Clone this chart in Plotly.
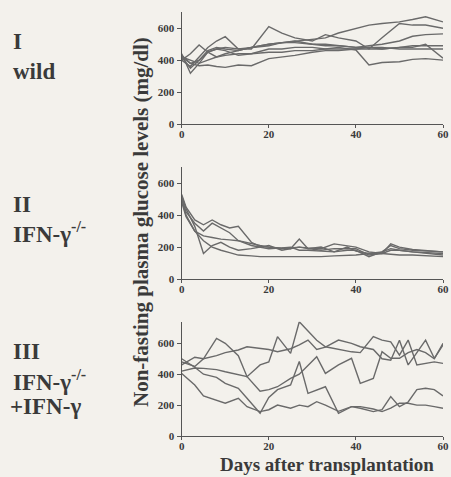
import plotly.graph_objects as go

# ---------------- data ----------------
# Panel I: wild
days1 = [0, 2, 4, 6, 8, 10, 13, 16, 20, 23, 26, 30, 33, 36, 40, 43, 46, 50, 53, 56, 60]
wild = [
    [430, 380, 400, 460, 480, 470, 460, 480, 500, 510, 520, 530, 540, 570, 600, 620, 630, 640, 655, 672, 640],
    [420, 350, 400, 450, 470, 480, 470, 470, 610, 570, 540, 520, 560, 540, 520, 470, 540, 630, 620, 620, 600],
    [440, 318, 380, 450, 470, 460, 430, 440, 470, 470, 480, 480, 470, 480, 464, 370, 385, 390, 405, 410, 400],
    [420, 380, 365, 370, 360, 355, 370, 365, 410, 420, 430, 450, 460, 460, 470, 470, 470, 480, 490, 490, 490],
    [400, 360, 420, 480, 520, 547, 470, 480, 490, 510, 520, 500, 490, 490, 480, 490, 500, 520, 550, 560, 565],
    [400, 440, 495, 450, 420, 440, 460, 480, 500, 510, 510, 500, 500, 490, 480, 480, 470, 480, 480, 500, 412],
    [420, 400, 380, 400, 420, 430, 440, 440, 450, 450, 460, 460, 470, 470, 470, 480, 480, 470, 470, 470, 470],
]

# Panel II: IFN-gamma -/-
days2 = [0, 1, 3, 5, 7, 9, 11, 13, 16, 18, 20, 23, 25, 27, 29, 32, 35, 38, 40, 43, 46, 48, 50, 53, 56, 60]
ko = [
    [520, 440, 330, 160, 210, 230, 200, 180, 190, 200, 210, 180, 190, 200, 190, 180, 190, 190, 190, 150, 160, 180, 180, 170, 165, 160],
    [500, 400, 300, 240, 200, 180, 165, 150, 145, 140, 140, 140, 140, 140, 140, 140, 145, 150, 150, 160, 160, 155, 150, 150, 145, 140],
    [530, 450, 370, 340, 370, 340, 320, 330, 230, 205, 200, 190, 195, 200, 195, 190, 220, 210, 200, 170, 160, 220, 200, 185, 180, 170],
    [510, 420, 350, 300, 350, 320, 290, 240, 220, 210, 200, 195, 190, 250, 190, 200, 170, 180, 180, 140, 170, 210, 190, 180, 175, 170],
    [480, 390, 300, 270, 260, 250, 245, 240, 210, 200, 190, 195, 200, 180, 180, 175, 170, 200, 175, 160, 170, 190, 180, 170, 160, 150],
]

# Panel III: IFN-gamma -/- + IFN-gamma
days3 = [0, 3, 5, 8, 10, 13, 15, 18, 20, 22, 25, 27, 29, 31, 33, 36, 39, 41, 44, 46, 48, 50, 52, 54, 56, 58, 60]
rescue = [
    [480, 450, 500, 632, 600, 520, 384, 460, 480, 643, 535, 740, 680, 620, 578, 560, 545, 540, 643, 621, 610, 524, 621, 460, 470, 480, 470],
    [460, 510, 500, 520, 540, 557, 578, 567, 560, 546, 565, 590, 621, 560, 575, 621, 600, 578, 560, 500, 490, 620, 460, 540, 621, 503, 589],
    [420, 440, 438, 430, 416, 395, 385, 290, 300, 319, 373, 400, 460, 513, 405, 460, 503, 341, 373, 546, 503, 503, 540, 560, 540, 500, 600],
    [500, 445, 400, 380, 341, 309, 244, 147, 250, 300, 330, 482, 276, 300, 319, 147, 190, 180, 158, 170, 255, 190, 220, 300, 309, 300, 260],
    [405, 330, 260, 230, 212, 244, 190, 158, 170, 200, 180, 200, 190, 222, 200, 160, 190, 190, 175, 158, 180, 212, 212, 200, 200, 190, 180],
]

x_ticks = [0, 20, 40, 60]
y_ticks = [0, 200, 400, 600]

# ---------------- figure ----------------
W, H = 451, 477
bg = "#f3f1ec"
line_col = "#6a6a6a"
txt_col = "#3a3a3a"
font_family = "Liberation Serif, Times New Roman, serif"

fig = go.Figure()

panels = [(days1, wild, "x", "y"), (days2, ko, "x2", "y2"), (days3, rescue, "x3", "y3")]
for days, series, xa, ya in panels:
    for s in series:
        fig.add_trace(go.Scatter(x=days, y=s, mode="lines", xaxis=xa, yaxis=ya,
                                 line=dict(color=line_col, width=1.4), showlegend=False,
                                 hoverinfo="skip"))

x_dom = [181.7 / W, 443 / W]
y_doms = [
    (1 - 124 / H, 1 - 12.3 / H, 700),
    (1 - 279 / H, 1 - 167.3 / H, 700),
    (1 - 436 / H, 1 - 321.7 / H, 740),
]

axis_common = dict(showgrid=False, zeroline=False, showline=True, linecolor="#555",
                   linewidth=1.3, ticks="outside", tickcolor="#555", tickwidth=1.2,
                   automargin=False,
                   tickfont=dict(family=font_family, size=11, color=txt_col, weight="bold"))

layout = dict(width=W, height=H, margin=dict(l=0, r=0, t=0, b=0, pad=0),
              paper_bgcolor=bg, plot_bgcolor=bg, showlegend=False)

for i, (yb, yt, ymax) in enumerate(y_doms):
    sx = "" if i == 0 else str(i + 1)
    layout["xaxis" + sx] = dict(domain=x_dom, range=[0, 60], tickvals=x_ticks,
                                anchor="y" + sx, ticklen=3, ticklabelstandoff=-3,
                                **axis_common)
    layout["yaxis" + sx] = dict(domain=[yb, yt], range=[0, ymax], tickvals=y_ticks,
                                anchor="x" + sx, ticklen=4, **axis_common)

fig.update_layout(**layout)

bold = lambda t: "<b>" + t + "</b>"
labels = [
    ("I", 12, 42),
    ("wild", 12, 72),
    ("II", 12, 204),
    ("IFN-γ<sup>-/-</sup>", 12, 232),
    ("III", 12, 351),
    ("IFN-γ<sup>-/-</sup>", 12, 380),
    ("+IFN-γ", 9, 406),
]
for t, px, py in labels:
    fig.add_annotation(text=bold(t), x=px / W, y=1 - py / H, xref="paper", yref="paper",
                       xanchor="left", yanchor="middle", showarrow=False, align="left",
                       borderpad=0,
                       font=dict(family=font_family, size=23, color=txt_col))

fig.add_annotation(text=bold("Non-fasting plasma glucose levels (mg/dl)"),
                   x=141 / W, y=1 - 222 / H, xref="paper", yref="paper",
                   textangle=-90, showarrow=False, xanchor="center", yanchor="middle",
                   font=dict(family=font_family, size=21, color=txt_col))

fig.add_annotation(text=bold("Days after transplantation"),
                   x=327 / W, y=1 - 464 / H, xref="paper", yref="paper",
                   showarrow=False, xanchor="center", yanchor="middle", borderpad=0,
                   font=dict(family=font_family, size=19, color=txt_col))

fig.write_html("out.html", config={"displayModeBar": False},
               post_script="document.body.style.margin='0';document.body.style.padding='0';"
                           "document.body.style.overflow='hidden';"
                           "document.body.style.background='" + bg + "';")
